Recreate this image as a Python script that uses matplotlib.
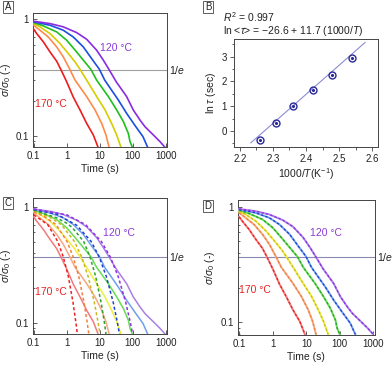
import matplotlib
matplotlib.use("Agg")
import matplotlib.pyplot as plt
import matplotlib.ticker as mticker
import matplotlib.transforms as mtrans
import numpy as np

plt.rcParams['font.family'] = ['Liberation Sans', 'DejaVu Sans']
plt.rcParams['mathtext.fontset'] = 'custom'
plt.rcParams['mathtext.rm'] = 'Liberation Sans'
plt.rcParams['mathtext.it'] = 'Liberation Sans:italic'
plt.rcParams['mathtext.bf'] = 'Liberation Sans:bold'

# ---------------- data ----------------
temps = [170, 160, 150, 140, 130, 120]

# measured relaxation curves sigma/sigma0 vs time (s)
t_170 = [0.1, 0.123, 0.196, 0.312, 0.497, 0.66, 1.0, 1.59, 2.53, 4.03, 6.4, 9.1]
s_170 = [0.816, 0.75, 0.636, 0.522, 0.435, 0.371, 0.29, 0.214, 0.167, 0.128, 0.102, 0.079]
t_160 = [0.1, 0.155, 0.277, 0.497, 0.79, 1.24, 1.79, 4.03, 7.2, 11.5, 15.5, 19.5]
s_160 = [0.883, 0.80, 0.70, 0.576, 0.473, 0.371, 0.30, 0.217, 0.167, 0.128, 0.102, 0.079]
t_150 = [0.1, 0.155, 0.312, 0.627, 1.12, 1.79, 2.53, 4.03, 8.1, 14.5, 23, 32.7, 45]
s_150 = [0.912, 0.855, 0.75, 0.616, 0.506, 0.429, 0.371, 0.30, 0.217, 0.167, 0.128, 0.102, 0.079]
t_140 = [0.1, 0.196, 0.497, 1.0, 2.0, 3.19, 5.4, 8.07, 18.3, 32.7, 52, 74, 83, 100]
s_140 = [0.93, 0.871, 0.774, 0.657, 0.522, 0.444, 0.371, 0.30, 0.217, 0.167, 0.133, 0.105, 0.0895, 0.079]
t_130 = [0.1, 0.312, 0.79, 1.59, 3.19, 5.7, 9.8, 14.2, 36.7, 65.6, 115, 205, 290]
s_130 = [0.943, 0.883, 0.80, 0.70, 0.576, 0.458, 0.371, 0.30, 0.203, 0.156, 0.124, 0.0987, 0.079]
t_120 = [0.1, 0.312, 0.79, 2.0, 4.03, 8.1, 12.9, 19, 31.8, 65.6, 104, 166, 236, 423, 673, 955]
s_120 = [0.955, 0.912, 0.855, 0.764, 0.67, 0.54, 0.444, 0.371, 0.29, 0.217, 0.167, 0.137, 0.12, 0.102, 0.0895, 0.08]

# single-mode fits shown in panel C
ft_170 = [0.1, 0.266, 0.536, 0.79, 1.12, 1.55, 1.90, 2.16]
fs_170 = [0.85, 0.7, 0.5, 0.368, 0.25, 0.15, 0.1, 0.075]
ft_160 = [0.1, 0.2, 0.473, 1.03, 1.58, 2.32, 3.34, 4.19, 4.81]
fs_160 = [0.895, 0.83, 0.7, 0.5, 0.368, 0.25, 0.15, 0.1, 0.075]
ft_150 = [0.1, 0.3, 0.69, 1.72, 2.85, 4.47, 6.87, 8.97, 10.6]
fs_150 = [0.912, 0.815, 0.7, 0.5, 0.368, 0.25, 0.15, 0.1, 0.075]
ft_140 = [0.1, 0.5, 1.0, 1.48, 3.28, 5.1, 7.55, 11.0, 13.9, 16.0]
fs_140 = [0.935, 0.8, 0.72, 0.66, 0.5, 0.368, 0.25, 0.15, 0.1, 0.075]
ft_130 = [0.1, 0.5, 2.02, 5.55, 9.7, 15.9, 25.7, 34.5, 41.2]
fs_130 = [0.945, 0.86, 0.69, 0.5, 0.368, 0.25, 0.15, 0.1, 0.075]
ft_120 = [0.1, 1.0, 3.72, 11.3, 21, 36.4, 61.5, 85.2, 104]
fs_120 = [0.955, 0.85, 0.7, 0.5, 0.368, 0.25, 0.15, 0.1, 0.075]

# Arrhenius panel
inv_T = [2.26, 2.31, 2.36, 2.42, 2.48, 2.54]
ln_tau = [-0.35, 0.32, 1.02, 1.65, 2.27, 2.93]
fit_intercept = -26.6
fit_slope = 11.7
fit_range = [2.233, 2.579]

data_t = [t_170, t_160, t_150, t_140, t_130, t_120]
data_s = [s_170, s_160, s_150, s_140, s_130, s_120]
fit_t = [ft_170, ft_160, ft_150, ft_140, ft_130, ft_120]
fit_s = [fs_170, fs_160, fs_150, fs_140, fs_130, fs_120]

col_full = ['#ee1c1c', '#ff8a4a', '#d6cc00', '#1fbf1f', '#1a4fe0', '#8a2be2']
col_light = ['#f27a7a', '#f7a880', '#eeee40', '#66dd55', '#6fa0ee', '#a880e8']
col_dash = ['#ee2020', '#f08040', '#c8b820', '#2ea02e', '#2040d0', '#9030e0']

TXT = '#222222'
SP = '#444444'
FS_T = 7
FS_L = 7.5

fig = plt.figure(figsize=(3.92, 3.69), dpi=100)


def ax_px(l, t, r, b):
    return fig.add_axes([l / 392, 1 - b / 369, (r - l) / 392, (b - t) / 369])


def style_log(ax, ylim):
    ax.set_xscale('log')
    ax.set_yscale('log')
    ax.set_xlim(0.095, 1060)
    ax.set_ylim(*ylim)
    ax.set_xticks([0.1, 1, 10, 100, 1000])
    ax.set_xticklabels(['0.1', '1', '10', '100', '1000'])
    ax.set_yticks([0.1, 1])
    ax.set_yticklabels(['0.1', '1'])
    ax.xaxis.set_minor_locator(mticker.LogLocator(base=10, subs=np.arange(2, 10)))
    ax.yaxis.set_minor_locator(mticker.LogLocator(base=10, subs=np.arange(2, 10)))
    ax.xaxis.set_minor_formatter(mticker.NullFormatter())
    ax.yaxis.set_minor_formatter(mticker.NullFormatter())
    ax.tick_params(which='both', direction='in', top=False, right=False,
                   colors=SP, labelcolor=TXT, labelsize=FS_T, width=0.6)
    ax.tick_params(which='major', length=3, pad=3)
    ax.tick_params(which='minor', length=1.6)
    for s in ax.spines.values():
        s.set_color(SP)
        s.set_linewidth(0.7)
    ax.set_xlabel('Time (s)', fontsize=FS_L, color=TXT, labelpad=2)
    ax.set_ylabel(r'$\sigma/\sigma_0$ (-)', fontsize=FS_L, color=TXT, labelpad=2)


def one_over_e(ax, color):
    ax.axhline(np.exp(-1), color=color, lw=0.8, zorder=1)
    tr = mtrans.blended_transform_factory(ax.transAxes, ax.transData)
    ax.text(1.015, np.exp(-1), r'1/$e$', transform=tr, fontsize=FS_L,
            color=TXT, va='center', ha='left')


def panel_letter(x, y, letter):
    fig.text(x / 392, 1 - y / 369, letter, fontsize=7, color=TXT,
             ha='center', va='center',
             bbox=dict(boxstyle='square,pad=0.15', fc='white', ec=SP, lw=0.6))


# ---------------- Panel A ----------------
axA = ax_px(33, 12.7, 166.5, 146.7)
style_log(axA, (0.081, 1.13))
one_over_e(axA, '#a0a0a0')
for i in range(6):
    axA.plot(data_t[i], data_s[i], color=col_full[i], lw=1.2, zorder=3)
axA.text(10.2, 0.565, '120 °C', color='#8a3ad8', fontsize=FS_L, va='center', ha='left')
axA.text(0.11, 0.188, '170 °C', color='#e82020', fontsize=FS_L, va='center', ha='left')

# ---------------- Panel B ----------------
axB = ax_px(234, 39.3, 378, 146.7)
axB.set_xlim(2.182, 2.618)
axB.set_ylim(-0.63, 3.70)
fx = np.array(fit_range)
axB.plot(fx, fit_intercept + fit_slope * fx, color='#8c8cd8', lw=0.8, zorder=2)
axB.plot(inv_T, ln_tau, 'o', ms=5, mfc='none', mec='#2a2a9a', mew=1.0, zorder=3)
axB.plot(inv_T, ln_tau, '.', ms=2.5, color='#2a2a9a', zorder=4)
axB.set_xticks([2.2, 2.3, 2.4, 2.5, 2.6])
axB.set_xticklabels(['2.2', '2.3', '2.4', '2.5', '2.6'])
axB.set_yticks([0, 1, 2, 3])
axB.xaxis.set_minor_locator(mticker.MultipleLocator(0.05))
axB.yaxis.set_minor_locator(mticker.MultipleLocator(0.5))
axB.tick_params(which='both', direction='out', top=False, right=False,
                colors=SP, labelcolor=TXT, labelsize=FS_T, width=0.6)
axB.tick_params(which='major', length=3, pad=2)
axB.tick_params(which='minor', length=1.8)
for s in axB.spines.values():
    s.set_color(SP)
    s.set_linewidth(0.7)
axB.set_xlabel(r'1000/$T$(K$^{-1}$)', fontsize=FS_L, color=TXT, labelpad=2)
axB.set_ylabel(r'ln $\tau$ (sec)', fontsize=FS_L, color=TXT, labelpad=3)
fig.text(223 / 392, 1 - 17.5 / 369, r'$R^2$ = 0.997', fontsize=FS_L, color=TXT,
         ha='left', va='center')
fig.text(223 / 392, 1 - 31.5 / 369, r'ln <$\tau$> = $-$26.6 + 11.7 (1000/$T$)',
         fontsize=FS_L, color=TXT, ha='left', va='center')

# ---------------- Panel C ----------------
axC = ax_px(33, 198.3, 166.5, 334)
style_log(axC, (0.08, 1.18))
one_over_e(axC, '#8a8ab0')
for i in range(6):
    axC.plot(data_t[i], data_s[i], color=col_light[i], lw=1.1, zorder=3)
for i in range(6):
    axC.plot(fit_t[i], fit_s[i], color=col_dash[i], lw=1.1, ls=(0, (2, 1.6)), zorder=4)
axC.text(12.6, 0.59, '120 °C', color='#8a3ad8', fontsize=FS_L, va='center', ha='left')
axC.text(0.11, 0.184, '170 °C', color='#e82020', fontsize=FS_L, va='center', ha='left')

# ---------------- Panel D ----------------
axD = ax_px(237.7, 200, 375, 335)
style_log(axD, (0.078, 1.14))
axD.set_xlim(0.09, 1120)
one_over_e(axD, '#8a8ab0')
for i in range(6):
    axD.plot(data_t[i], data_s[i], color=col_light[i], lw=1.4, zorder=3)
for i in range(6):
    axD.plot(data_t[i], data_s[i], color=col_dash[i], lw=0.9, ls=(0, (2, 1.6)), zorder=4)
axD.text(13, 0.59, '120 °C', color='#8a3ad8', fontsize=FS_L, va='center', ha='left')
axD.text(0.1, 0.19, '170 °C', color='#e82020', fontsize=FS_L, va='center', ha='left')

panel_letter(8, 7, 'A')
panel_letter(208, 7, 'B')
panel_letter(8, 203, 'C')
panel_letter(208, 206, 'D')

fig.savefig('out.png', dpi=100)
